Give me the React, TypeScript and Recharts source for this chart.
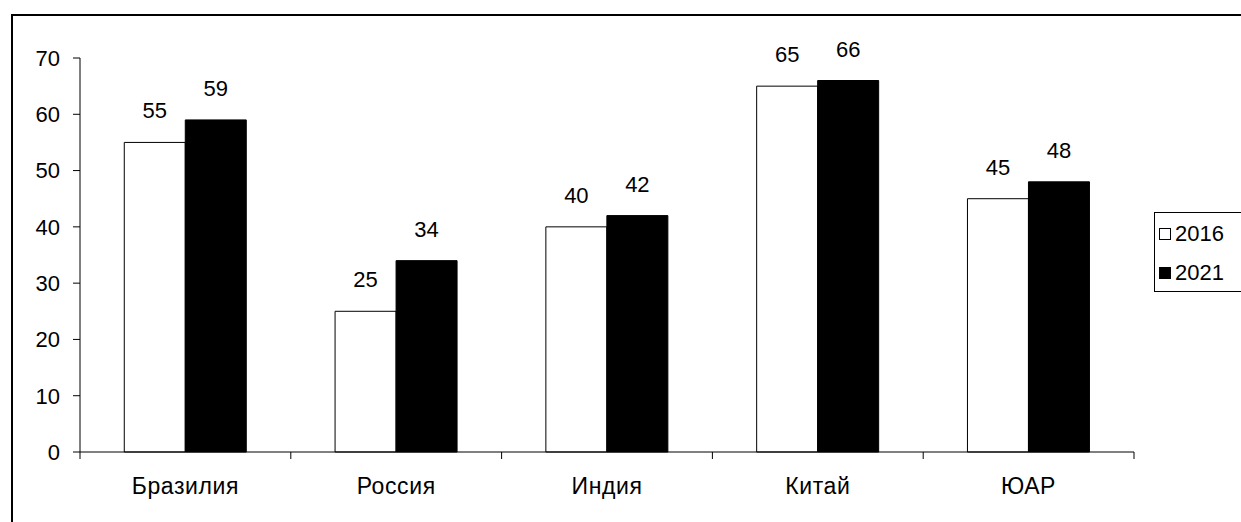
import React from "react";
import { BarChart, Bar, XAxis, YAxis, LabelList } from "recharts";

const categories = ["Бразилия", "Россия", "Индия", "Китай", "ЮАР"];
const values2016 = [55, 25, 40, 65, 45];
const values2021 = [59, 34, 42, 66, 48];
const yTicks = [0, 10, 20, 30, 40, 50, 60, 70];
const seriesNames = ["2016", "2021"];

const data = categories.map((name, i) => ({
  name,
  v2016: values2016[i],
  v2021: values2021[i],
}));

const FONT = "'Liberation Sans', Arial, sans-serif";

const XTick = (props: any) => {
  const { x, y, payload, index } = props;
  const half = payload && typeof payload.offset === "number" ? payload.offset : 0;
  const isLast = index === categories.length - 1;
  return (
    <g>
      <line x1={x - half} x2={x - half} y1={y} y2={y + 7} stroke="#000" strokeWidth={1} />
      {isLast && <line x1={x + half} x2={x + half} y1={y} y2={y + 7} stroke="#000" strokeWidth={1} />}
      <text
        x={x}
        y={y + 34}
        dy="0.355em"
        textAnchor="middle"
        fontSize={23}
        letterSpacing={0.6}
        fontFamily={FONT}
        fill="#000"
      >
        {payload.value}
      </text>
    </g>
  );
};

const LegendBox = () => {
  const fills = ["#fff", "#000"];
  return (
    <div
      style={{
        position: "absolute",
        left: 1154,
        top: 212,
        border: "1px solid #000",
        width: 100,
        height: 80,
        boxSizing: "border-box",
        background: "#fff",
        fontFamily: FONT,
        fontSize: 22,
        paddingTop: 1,
      }}
    >
      {seriesNames.map((n, i) => (
        <div key={n} style={{ display: "flex", alignItems: "center", height: 39, lineHeight: "22px" }}>
          <span
            style={{
              display: "inline-block",
              width: 12,
              height: 12,
              marginLeft: 4,
              marginRight: 4,
              border: "1px solid #000",
              boxSizing: "border-box",
              background: fills[i],
            }}
          />
          <span>{n}</span>
        </div>
      ))}
    </div>
  );
};

export default function App() {
  return (
    <div
      style={{
        position: "absolute",
        left: 0,
        top: 0,
        width: 1241,
        height: 522,
        overflow: "hidden",
        background: "#fff",
      }}
    >
      <div
        style={{
          position: "absolute",
          left: 11,
          top: 14,
          width: 1400,
          height: 700,
          border: "2px solid #000",
        }}
      />
      <div style={{ position: "absolute", left: 0, top: 0 }}>
        <BarChart
          width={1241}
          height={522}
          data={data}
          margin={{ top: 58, right: 107, bottom: 0, left: 0 }}
          barCategoryGap="21%"
          barGap={0}
        >
          <XAxis
            dataKey="name"
            type="category"
            interval={0}
            tick={<XTick />}
            tickLine={false}
            tickSize={0}
            tickMargin={0}
            axisLine={{ stroke: "#000", strokeWidth: 1 }}
            height={70}
          />
          <YAxis
            domain={[0, 70]}
            ticks={yTicks}
            interval={0}
            width={80}
            tickSize={7}
            tickMargin={13}
            axisLine={{ stroke: "#000", strokeWidth: 1 }}
            tickLine={{ stroke: "#000", strokeWidth: 1 }}
            tick={{ fontSize: 22, fontFamily: FONT, fill: "#000" }}
          />
          <Bar dataKey="v2016" name="2016" fill="#fff" stroke="#000" strokeWidth={1} isAnimationActive={false}>
            <LabelList dataKey="v2016" position="top" offset={24} style={{ fontSize: 22, fontFamily: FONT, fill: "#000" }} />
          </Bar>
          <Bar dataKey="v2021" name="2021" fill="#000" stroke="#000" strokeWidth={1} isAnimationActive={false}>
            <LabelList dataKey="v2021" position="top" offset={24} style={{ fontSize: 22, fontFamily: FONT, fill: "#000" }} />
          </Bar>
        </BarChart>
      </div>
      <LegendBox />
    </div>
  );
}
